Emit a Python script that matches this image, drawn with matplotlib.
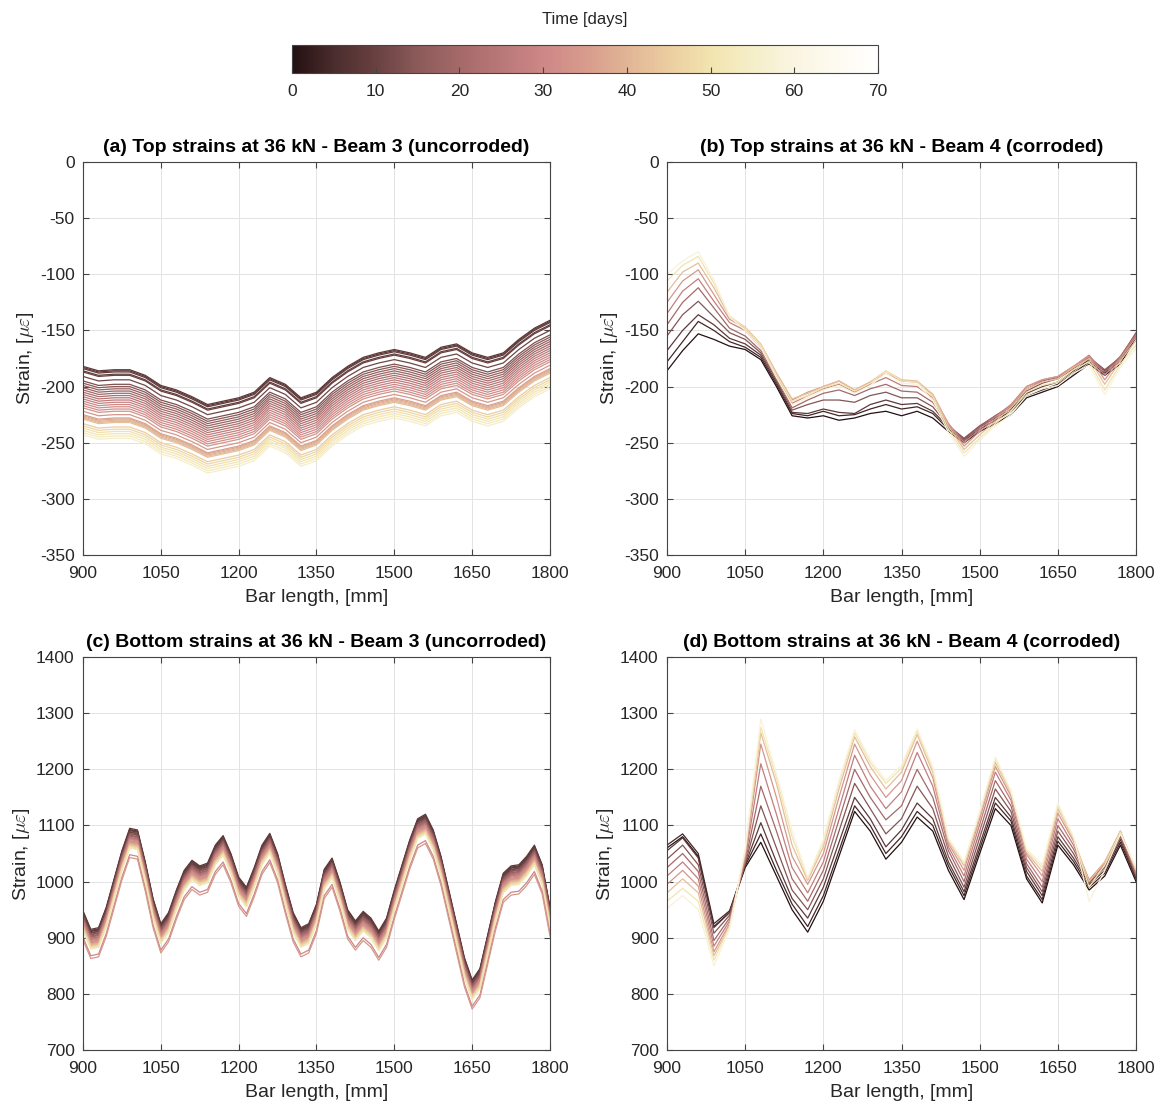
import matplotlib.pyplot as plt
from matplotlib.colors import LinearSegmentedColormap, Normalize
from matplotlib.cm import ScalarMappable

plt.rcParams['font.family'] = ['Liberation Sans', 'DejaVu Sans']
plt.rcParams['mathtext.fontset'] = 'cm'
plt.rcParams['axes.unicode_minus'] = False

bar_length = list(range(900, 1801, 30))
bar_length_fine = list(range(900, 1801, 15))

# (a) top strains, beam 3: first reading, then level of each reading below it
top_b3_first = [-182, -186, -185, -185, -190, -199, -203, -209, -216, -213, -210,
                -205, -192, -198, -210, -205, -192, -182, -174, -170, -167, -170,
                -174, -165, -162, -170, -174, -170, -158, -148, -141]
top_b3_days = [8, 8, 9, 9, 10, 11, 13, 15, 17, 18, 20, 22, 24, 26, 28, 30, 31, 32,
               33, 34, 36, 38, 40, 41, 42, 45, 47, 49, 51, 53, 55]
top_b3_shift = [0, -1, -2, -4, -5, -9, -13, -15, -17, -19, -21, -23, -25, -27, -29,
                -31, -33, -35, -37, -40, -43, -44, -45, -46, -47, -51, -53, -55,
                -57, -59, -61]

# (b) top strains, beam 4
top_b4_days = [0, 4, 8, 14, 20, 27, 34, 42, 50, 58]
top_b4 = [
    [-186, -168, -153, -158, -164, -167, -176, -200, -226, -228, -226, -230, -228, -224, -222, -226,
     -222, -228, -240, -250, -240, -233, -225, -210, -205, -200, -190, -180, -190, -180, -156],
    [-178, -160, -142, -150, -160, -165, -174, -198, -224, -226, -222, -226, -225, -220, -216, -220,
     -218, -224, -238, -248, -238, -230, -222, -208, -203, -198, -188, -178, -188, -177, -154],
    [-168, -150, -136, -145, -157, -162, -172, -196, -223, -224, -220, -223, -224, -216, -212, -216,
     -215, -222, -236, -247, -236, -228, -220, -206, -200, -196, -186, -176, -186, -175, -153],
    [-155, -136, -124, -138, -152, -158, -170, -194, -221, -216, -212, -212, -214, -208, -205, -210,
     -210, -218, -235, -246, -235, -226, -218, -204, -197, -193, -184, -174, -185, -174, -152],
    [-145, -125, -112, -130, -148, -155, -168, -192, -219, -212, -206, -203, -208, -202, -198, -204,
     -205, -214, -234, -248, -236, -226, -217, -202, -195, -192, -183, -173, -187, -173, -153],
    [-135, -115, -104, -124, -143, -150, -165, -190, -215, -208, -202, -198, -205, -198, -192, -199,
     -200, -210, -233, -250, -238, -227, -216, -200, -194, -191, -182, -172, -190, -174, -154],
    [-125, -106, -96, -118, -140, -148, -163, -188, -212, -205, -200, -195, -203, -196, -188, -195,
     -196, -207, -233, -253, -240, -229, -217, -200, -194, -191, -182, -173, -194, -175, -156],
    [-116, -98, -90, -112, -138, -147, -162, -188, -211, -206, -200, -195, -203, -196, -186, -194,
     -195, -207, -235, -256, -243, -231, -219, -202, -196, -193, -183, -175, -198, -177, -159],
    [-106, -92, -84, -108, -137, -148, -163, -190, -213, -208, -201, -197, -204, -197, -186, -195,
     -196, -209, -238, -259, -246, -233, -222, -205, -199, -196, -185, -178, -203, -180, -163],
    [-100, -88, -80, -105, -138, -150, -165, -192, -216, -210, -203, -199, -206, -199, -188, -197,
     -198, -212, -241, -262, -248, -235, -225, -208, -202, -199, -188, -181, -207, -183, -166],
]

# (c) bottom strains, beam 3 (read every 15 mm): first reading, then level of each reading
bot_b3_first = [948, 915, 918, 955, 1005, 1055, 1095, 1092, 1035, 970, 925, 945, 985,
                1020, 1038, 1028, 1033, 1065, 1082, 1050, 1008, 990, 1025, 1065, 1086,
                1050, 995, 945, 918, 925, 960, 1022, 1042, 1000, 950, 930, 947, 935,
                912, 935, 985, 1030, 1075, 1112, 1120, 1092, 1045, 985, 925, 865, 825,
                845, 905, 965, 1015, 1028, 1030, 1045, 1065, 1030, 955]
bot_b3_days = [8, 8, 9, 9, 10, 11, 13, 15, 17, 18, 20, 22, 24, 26, 28, 30, 31, 32,
               33, 34, 36, 38, 40, 41, 42, 45, 47, 49, 51, 30, 34]
bot_b3_shift = [0, -2, -3, -4, -6, -7, -9, -10, -12, -13, -14, -16, -17, -18, -19,
                -20, -22, -23, -24, -25, -26, -27, -28, -29, -30, -31, -32, -34,
                -35, -47, -52]

# (d) bottom strains, beam 4
bot_b4_days = [0, 4, 8, 14, 20, 27, 34, 42, 50, 58]
bot_b4 = [
    [1060, 1080, 1045, 920, 945, 1025, 1070, 1010, 950, 910, 965, 1045, 1125, 1090, 1040, 1070,
     1115, 1090, 1020, 968, 1050, 1130, 1100, 1005, 962, 1065, 1030, 985, 1010, 1065, 1000],
    [1065, 1085, 1050, 925, 948, 1028, 1085, 1020, 960, 920, 975, 1055, 1135, 1100, 1050, 1080,
     1125, 1100, 1028, 975, 1058, 1140, 1108, 1010, 968, 1072, 1036, 990, 1015, 1070, 1005],
    [1055, 1078, 1042, 918, 945, 1030, 1105, 1035, 970, 935, 990, 1070, 1150, 1112, 1062, 1092,
     1140, 1112, 1035, 982, 1066, 1150, 1115, 1018, 975, 1080, 1042, 995, 1020, 1075, 1008],
    [1040, 1065, 1030, 908, 940, 1032, 1135, 1060, 985, 950, 1005, 1090, 1175, 1130, 1085, 1112,
     1170, 1130, 1045, 990, 1078, 1165, 1125, 1025, 982, 1090, 1050, 998, 1025, 1080, 1010],
    [1025, 1050, 1018, 895, 935, 1035, 1170, 1090, 1005, 965, 1020, 1110, 1200, 1150, 1110, 1135,
     1200, 1150, 1055, 1000, 1090, 1180, 1135, 1032, 990, 1100, 1058, 1000, 1030, 1085, 1012],
    [1010, 1035, 1005, 885, 930, 1040, 1210, 1120, 1025, 980, 1035, 1130, 1225, 1170, 1130, 1160,
     1230, 1170, 1062, 1010, 1102, 1195, 1145, 1040, 1000, 1112, 1065, 1002, 1032, 1088, 1015],
    [995, 1020, 992, 875, 925, 1045, 1245, 1150, 1045, 995, 1050, 1150, 1245, 1190, 1150, 1180,
     1250, 1185, 1068, 1020, 1112, 1205, 1152, 1048, 1010, 1122, 1072, 1003, 1035, 1090, 1018],
    [980, 1005, 980, 868, 922, 1050, 1265, 1175, 1065, 1002, 1062, 1165, 1258, 1205, 1165, 1195,
     1262, 1195, 1072, 1028, 1118, 1212, 1158, 1052, 1018, 1130, 1076, 1000, 1035, 1090, 1020],
    [965, 988, 965, 860, 920, 1055, 1275, 1185, 1080, 1005, 1070, 1175, 1265, 1212, 1175, 1202,
     1268, 1200, 1075, 1032, 1122, 1218, 1160, 1055, 1025, 1135, 1078, 990, 1030, 1088, 1022],
    [952, 975, 950, 850, 915, 1058, 1290, 1192, 1090, 1008, 1075, 1180, 1270, 1218, 1180, 1207,
     1272, 1205, 1078, 1035, 1125, 1222, 1162, 1058, 1030, 1140, 1080, 965, 1020, 1085, 1025],
]

cbar_colors = ['#231012', '#4b2d2d', '#694141', '#8c5a5a', '#a56969', '#b97878', '#cd8787',
               '#d79b8c', '#e1b496', '#ebcda0', '#f2e4af', '#f5eec8', '#faf5e1', '#fdfaf0', '#ffffff']
time_cmap = LinearSegmentedColormap.from_list('time', cbar_colors)
norm = Normalize(0, 70)

fig = plt.figure(figsize=(11.61, 11.08), dpi=100)

panels = [
    ([0.0715, 0.4991, 0.4022, 0.3547], '(a) Top strains at 36 kN - Beam 3 (uncorroded)', (-350, 0), 50),
    ([0.5745, 0.4991, 0.4040, 0.3547], '(b) Top strains at 36 kN - Beam 4 (corroded)', (-350, 0), 50),
    ([0.0715, 0.0523, 0.4022, 0.3547], '(c) Bottom strains at 36 kN - Beam 3 (uncorroded)', (700, 1400), 100),
    ([0.5745, 0.0523, 0.4040, 0.3547], '(d) Bottom strains at 36 kN - Beam 4 (corroded)', (700, 1400), 100),
]

curves = [
    (bar_length, top_b3_days, [[v + s for v in top_b3_first] for s in top_b3_shift]),
    (bar_length, top_b4_days, top_b4),
    (bar_length_fine, bot_b3_days, [[v + s for v in bot_b3_first] for s in bot_b3_shift]),
    (bar_length, bot_b4_days, bot_b4),
]

for (rect, title, ylim, ystep), (xs, days, lines) in zip(panels, curves):
    ax = fig.add_axes(rect)
    for d, y in zip(days, lines):
        ax.plot(xs, y, color=time_cmap(norm(d)), lw=0.9)
    ax.set_xlim(900, 1800)
    ax.set_ylim(*ylim)
    ax.set_xticks(range(900, 1801, 150))
    ax.set_yticks(range(ylim[0], ylim[1] + 1, ystep))
    ax.grid(True, color='#e3e3e3', lw=0.7)
    ax.set_axisbelow(True)
    ax.tick_params(direction='in', top=True, right=True, length=4, labelsize=12.5,
                   color='#444444', labelcolor='#262626')
    ax.tick_params(axis='x', pad=8)
    ax.tick_params(axis='y', pad=6)
    for sp in ax.spines.values():
        sp.set_color('#444444')
        sp.set_linewidth(0.8)
    ax.set_title(title, fontsize=14, fontweight='bold', pad=7)
    ax.set_xlabel('Bar length, [mm]', fontsize=14, color='#262626', labelpad=6)
    ax.set_ylabel(r'Strain, [$\mu\varepsilon$]', fontsize=14, color='#262626', labelpad=3)

cax = fig.add_axes([0.2515, 0.9341, 0.5047, 0.02527])
sm = ScalarMappable(norm=norm, cmap=time_cmap)
cb = fig.colorbar(sm, cax=cax, orientation='horizontal')
cb.set_ticks(range(0, 71, 10))
cb.ax.tick_params(direction='in', length=4, labelsize=12.5, pad=8,
                  color='#444444', labelcolor='#262626')
cb.outline.set_edgecolor('#444444')
cb.outline.set_linewidth(0.8)
cb.ax.set_title('Time [days]', fontsize=12, color='#262626', pad=15)

fig.savefig('out.png', dpi=100)
